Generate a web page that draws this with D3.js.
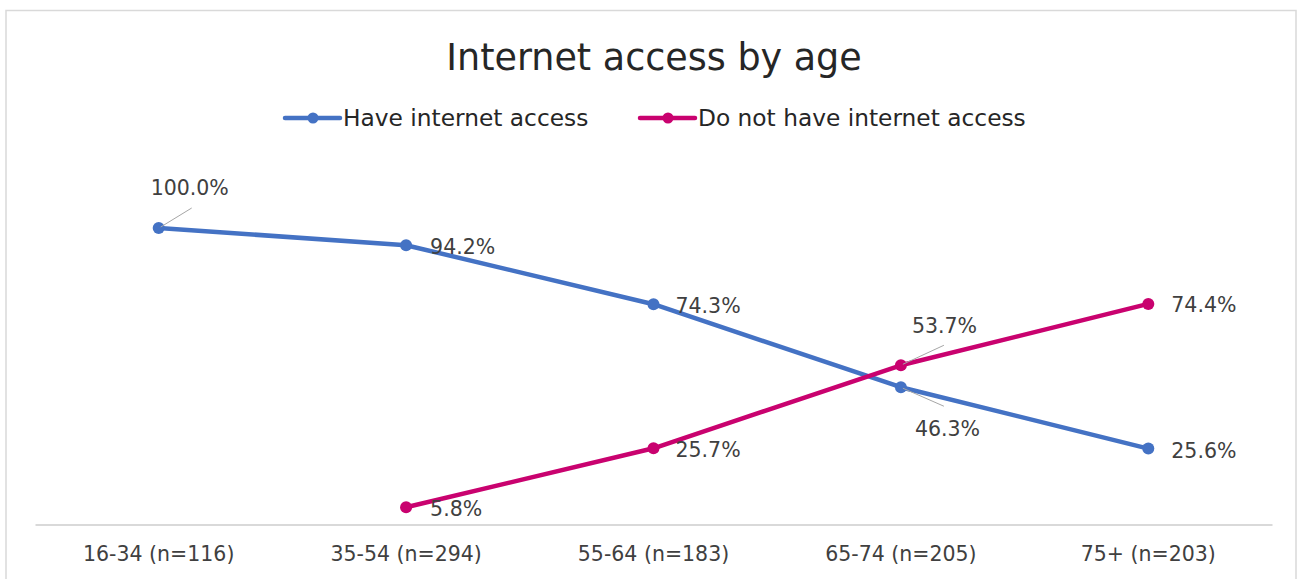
<!DOCTYPE html>
<html><head><meta charset="utf-8">
<script src="https://cdn.jsdelivr.net/npm/d3@7"></script>
<style>html,body{margin:0;padding:0;background:#fff;}svg{display:block;}</style>
</head><body>
<svg id="chart" width="1298" height="579"></svg>
<script>
const categories = ["16-34 (n=116)", "35-54 (n=294)", "55-64 (n=183)", "65-74 (n=205)", "75+ (n=203)"];
const haveAccess = [100.0, 94.2, 74.3, 46.3, 25.6];
const noAccess = [null, 5.8, 25.7, 53.7, 74.4];
const seriesNames = ["Have internet access", "Do not have internet access"];
const title = "Internet access by age";

const W = 1298, H = 579;
const svg = d3.select("#chart");
const FONT = "'DejaVu Sans', sans-serif";
const colors = ["#4472C4", "#C9026F"];

svg.append("rect").attr("x", 6).attr("y", 10.5).attr("width", 1290).attr("height", 620)
  .attr("fill", "#fff").attr("stroke", "#d9d9d9").attr("stroke-width", 1.5);

const x = d3.scaleBand().domain(categories).range([35, 1272]);
const y = d3.scaleLinear().domain([0, 100]).range([524.5, 228]);

// title
svg.append("text").attr("x", 654).attr("y", 70).attr("text-anchor", "middle")
  .attr("font-family", FONT).attr("font-size", 36.5).attr("fill", "#262626").text(title);

// axis
const xAxis = d3.axisBottom(x).tickSize(0).tickPadding(22);
const gx = svg.append("g").attr("transform", "translate(0,524.5)").call(xAxis);
gx.select(".domain").attr("stroke", "#d9d9d9").attr("stroke-width", 2);
gx.selectAll("text").attr("font-family", FONT).attr("font-size", 20.5).attr("fill", "#404040");

// legend
const legendX = [285, 640];
seriesNames.forEach((name, i) => {
  const g = svg.append("g").attr("transform", `translate(${legendX[i]},118)`);
  g.append("line").attr("x1", 0).attr("x2", 55).attr("stroke", colors[i]).attr("stroke-width", 4.5).attr("stroke-linecap", "round");
  g.append("circle").attr("cx", 28).attr("r", 5.5).attr("fill", colors[i]);
  g.append("text").attr("x", 58).attr("y", 0).attr("dy", "0.36em")
    .attr("font-family", FONT).attr("font-size", 23.3).attr("fill", "#262626").text(name);
});

const cx = c => x(c) + x.bandwidth() / 2;
const line = d3.line().defined(d => d.v != null).x(d => cx(d.c)).y(d => y(d.v));

[haveAccess, noAccess].forEach((vals, i) => {
  const pts = categories.map((c, j) => ({c, v: vals[j]}));
  svg.append("path").datum(pts).attr("d", line).attr("fill", "none")
    .attr("stroke", colors[i]).attr("stroke-width", 4.5).attr("stroke-linejoin", "round");
  svg.selectAll(null).data(pts.filter(d => d.v != null)).enter().append("circle")
    .attr("cx", d => cx(d.c)).attr("cy", d => y(d.v)).attr("r", 6).attr("fill", colors[i]);
});

// data labels: [series, index, dx, dy, leader]
const labelPlace = [
  [0, 0, -8, -40, true],
  [0, 1, 24, 1, false],
  [0, 2, 22, 1, false],
  [0, 3, 14, 41, true],
  [0, 4, 23, 2, false],
  [1, 1, 24, 1, false],
  [1, 2, 22, 1, false],
  [1, 3, 11, -40, true],
  [1, 4, 23, 1, false]
];
labelPlace.forEach(([s, j, dx, dy, leader]) => {
  const v = (s === 0 ? haveAccess : noAccess)[j];
  const px = cx(categories[j]), py = y(v);
  const txt = v.toFixed(1) + "%";
  if (leader) {
    const lx = s === 0 && j === 0 ? px + 33 : px + 43;
    const ly = dy < 0 ? py + dy + 20 : py + dy - 22;
    svg.append("line").attr("x1", px + 2).attr("y1", py + (dy < 0 ? -1 : 1)).attr("x2", lx).attr("y2", ly)
      .attr("stroke", "#a6a6a6").attr("stroke-width", 1);
  }
  svg.append("text").attr("x", px + dx).attr("y", py + dy).attr("dy", "0.36em")
    .attr("font-family", FONT).attr("font-size", 20.5).attr("fill", "#404040").text(txt);
});
</script>
</body></html>
